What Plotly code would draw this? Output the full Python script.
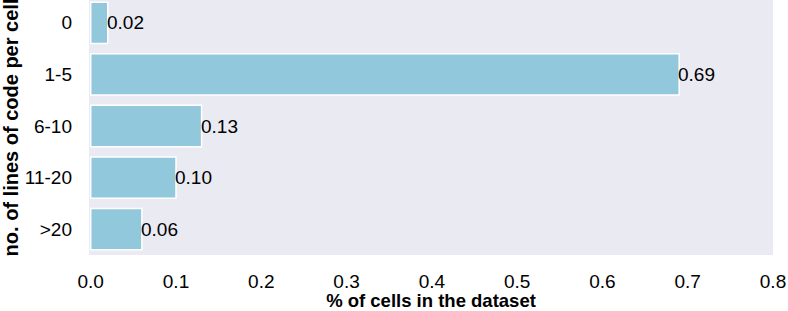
import plotly.graph_objects as go

categories = ["0", "1-5", "6-10", "11-20", ">20"]
values = [0.02, 0.69, 0.13, 0.10, 0.06]
labels = ["0.02", "0.69", "0.13", "0.10", "0.06"]
xticks = [0.0, 0.1, 0.2, 0.3, 0.4, 0.5, 0.6, 0.7, 0.8]

FONT = "Liberation Sans, Arial, Helvetica, sans-serif"

fig = go.Figure()
fig.add_trace(go.Bar(
    y=categories, x=values, orientation="h", width=0.8,
    marker=dict(color="#92C8DC", line=dict(color="white", width=1.5)),
    hoverinfo="skip",
))
for c, v, t in zip(categories, values, labels):
    fig.add_annotation(x=v, y=c, text=t, xanchor="left", yanchor="middle",
                       showarrow=False, xshift=-3,
                       font=dict(family=FONT, size=19, color="black"))

fig.update_layout(
    width=788, height=311,
    margin=dict(l=89, r=15, t=0, b=56),
    paper_bgcolor="white", plot_bgcolor="#EAEAF2",
    showlegend=False,
    font=dict(family=FONT, size=19, color="black"),
    xaxis=dict(range=[-0.002, 0.8], tickvals=xticks,
               ticktext=[f"{v:.1f}" for v in xticks],
               showgrid=False, zeroline=False, showline=False,
               ticks="", ticklabelstandoff=13,
               title=dict(text="<b>% of cells in the dataset</b>", standoff=4,
                          font=dict(size=18.5))),
    yaxis=dict(type="category", categoryorder="array", categoryarray=categories,
               range=[4.5, -0.442], showgrid=False, zeroline=False,
               showline=False, ticks="", ticklabelstandoff=16,
               title=dict(text="<b>no. of lines of code per cell</b>", standoff=9,
                          font=dict(size=20))),
)

fig.write_html("out.html", config={"displayModeBar": False},
               post_script="document.body.style.margin='0';document.body.style.overflow='hidden';")
